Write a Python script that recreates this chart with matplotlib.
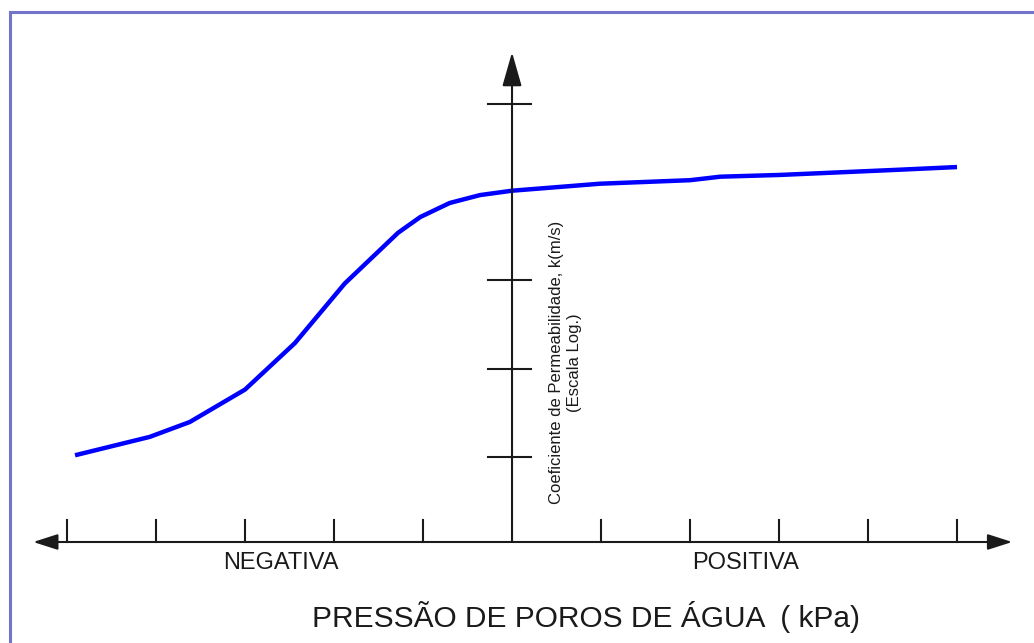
import numpy as np
import matplotlib.pyplot as plt
from matplotlib.lines import Line2D

# Curve (x in tick units of pressure, y in tick units of log k)
pressao = [-4.91, -4.07, -3.62, -3.00, -2.44, -1.88, -1.28, -1.03, -0.70, -0.36,
           0.00, 0.99, 2.00, 2.34, 3.01, 4.36, 5.00]
log_k = [0.99, 1.20, 1.37, 1.74, 2.27, 2.95, 3.53, 3.71, 3.87, 3.96,
         4.01, 4.09, 4.13, 4.17, 4.19, 4.25, 4.28]

x_ticks = [-5, -4, -3, -2, -1, 1, 2, 3, 4, 5]
y_ticks = [0.97, 1.97, 2.99, 5.0]

rotulo_neg = "NEGATIVA"
rotulo_pos = "POSITIVA"
titulo_x = "PRESSÃO DE POROS DE ÁGUA  ( kPa)"
titulo_y = "Coeficiente de Permeabilidade, k(m/s)\n(Escala Log.)"

plt.rcParams['font.family'] = ['Liberation Sans', 'DejaVu Sans']

fig = plt.figure(figsize=(10.34, 6.43), dpi=100)
ax = fig.add_axes([0, 0, 1, 1])
ax.set_xlim(-5.753, 5.865)
ax.set_ylim(-1.153, 6.187)
ax.axis('off')

# outer frame (left and top edge only visible)
fx, fy = 10 / 1034, 1 - 12 / 643
ax.add_line(Line2D([fx, fx], [0, fy], transform=ax.transAxes, color='#7373c9', lw=2.2))
ax.add_line(Line2D([fx, 1], [fy, fy], transform=ax.transAxes, color='#7373c9', lw=2.2))

# axes with arrow heads
ax.annotate('', xy=(5.62, 0), xytext=(-5.38, 0),
            arrowprops=dict(arrowstyle='<|-|>,head_length=0.75,head_width=0.24',
                            mutation_scale=20, color='#1a1a1a', lw=1.5,
                            shrinkA=0, shrinkB=0))
ax.annotate('', xy=(0, 5.59), xytext=(0, 0),
            arrowprops=dict(arrowstyle='-|>,head_length=1.05,head_width=0.3',
                            mutation_scale=20, color='#1a1a1a', lw=1.5,
                            shrinkA=0, shrinkB=0))

for t in x_ticks:
    ax.plot([t, t], [0, 0.25], color='#1a1a1a', lw=1.5)
for t in y_ticks:
    ax.plot([-0.27, 0.21], [t, t], color='#1a1a1a', lw=1.5)

# permeability curve
ax.plot(pressao, log_k, color='#0000ff', lw=3.2, solid_capstyle='butt',
        solid_joinstyle='round')

ax.text(-2.60, -0.24, rotulo_neg, ha='center', va='center', fontsize=17, color='#1a1a1a')
ax.text(2.62, -0.24, rotulo_pos, ha='center', va='center', fontsize=17, color='#1a1a1a')
ax.text(0.83, -0.856, titulo_x, ha='center', va='center', fontsize=21.5, color='#1a1a1a')
ax.text(0.60, 2.05, titulo_y, ha='center', va='center', rotation=90,
        fontsize=12, color='#1a1a1a', linespacing=1.3)

fig.savefig('out.png', dpi=100)
